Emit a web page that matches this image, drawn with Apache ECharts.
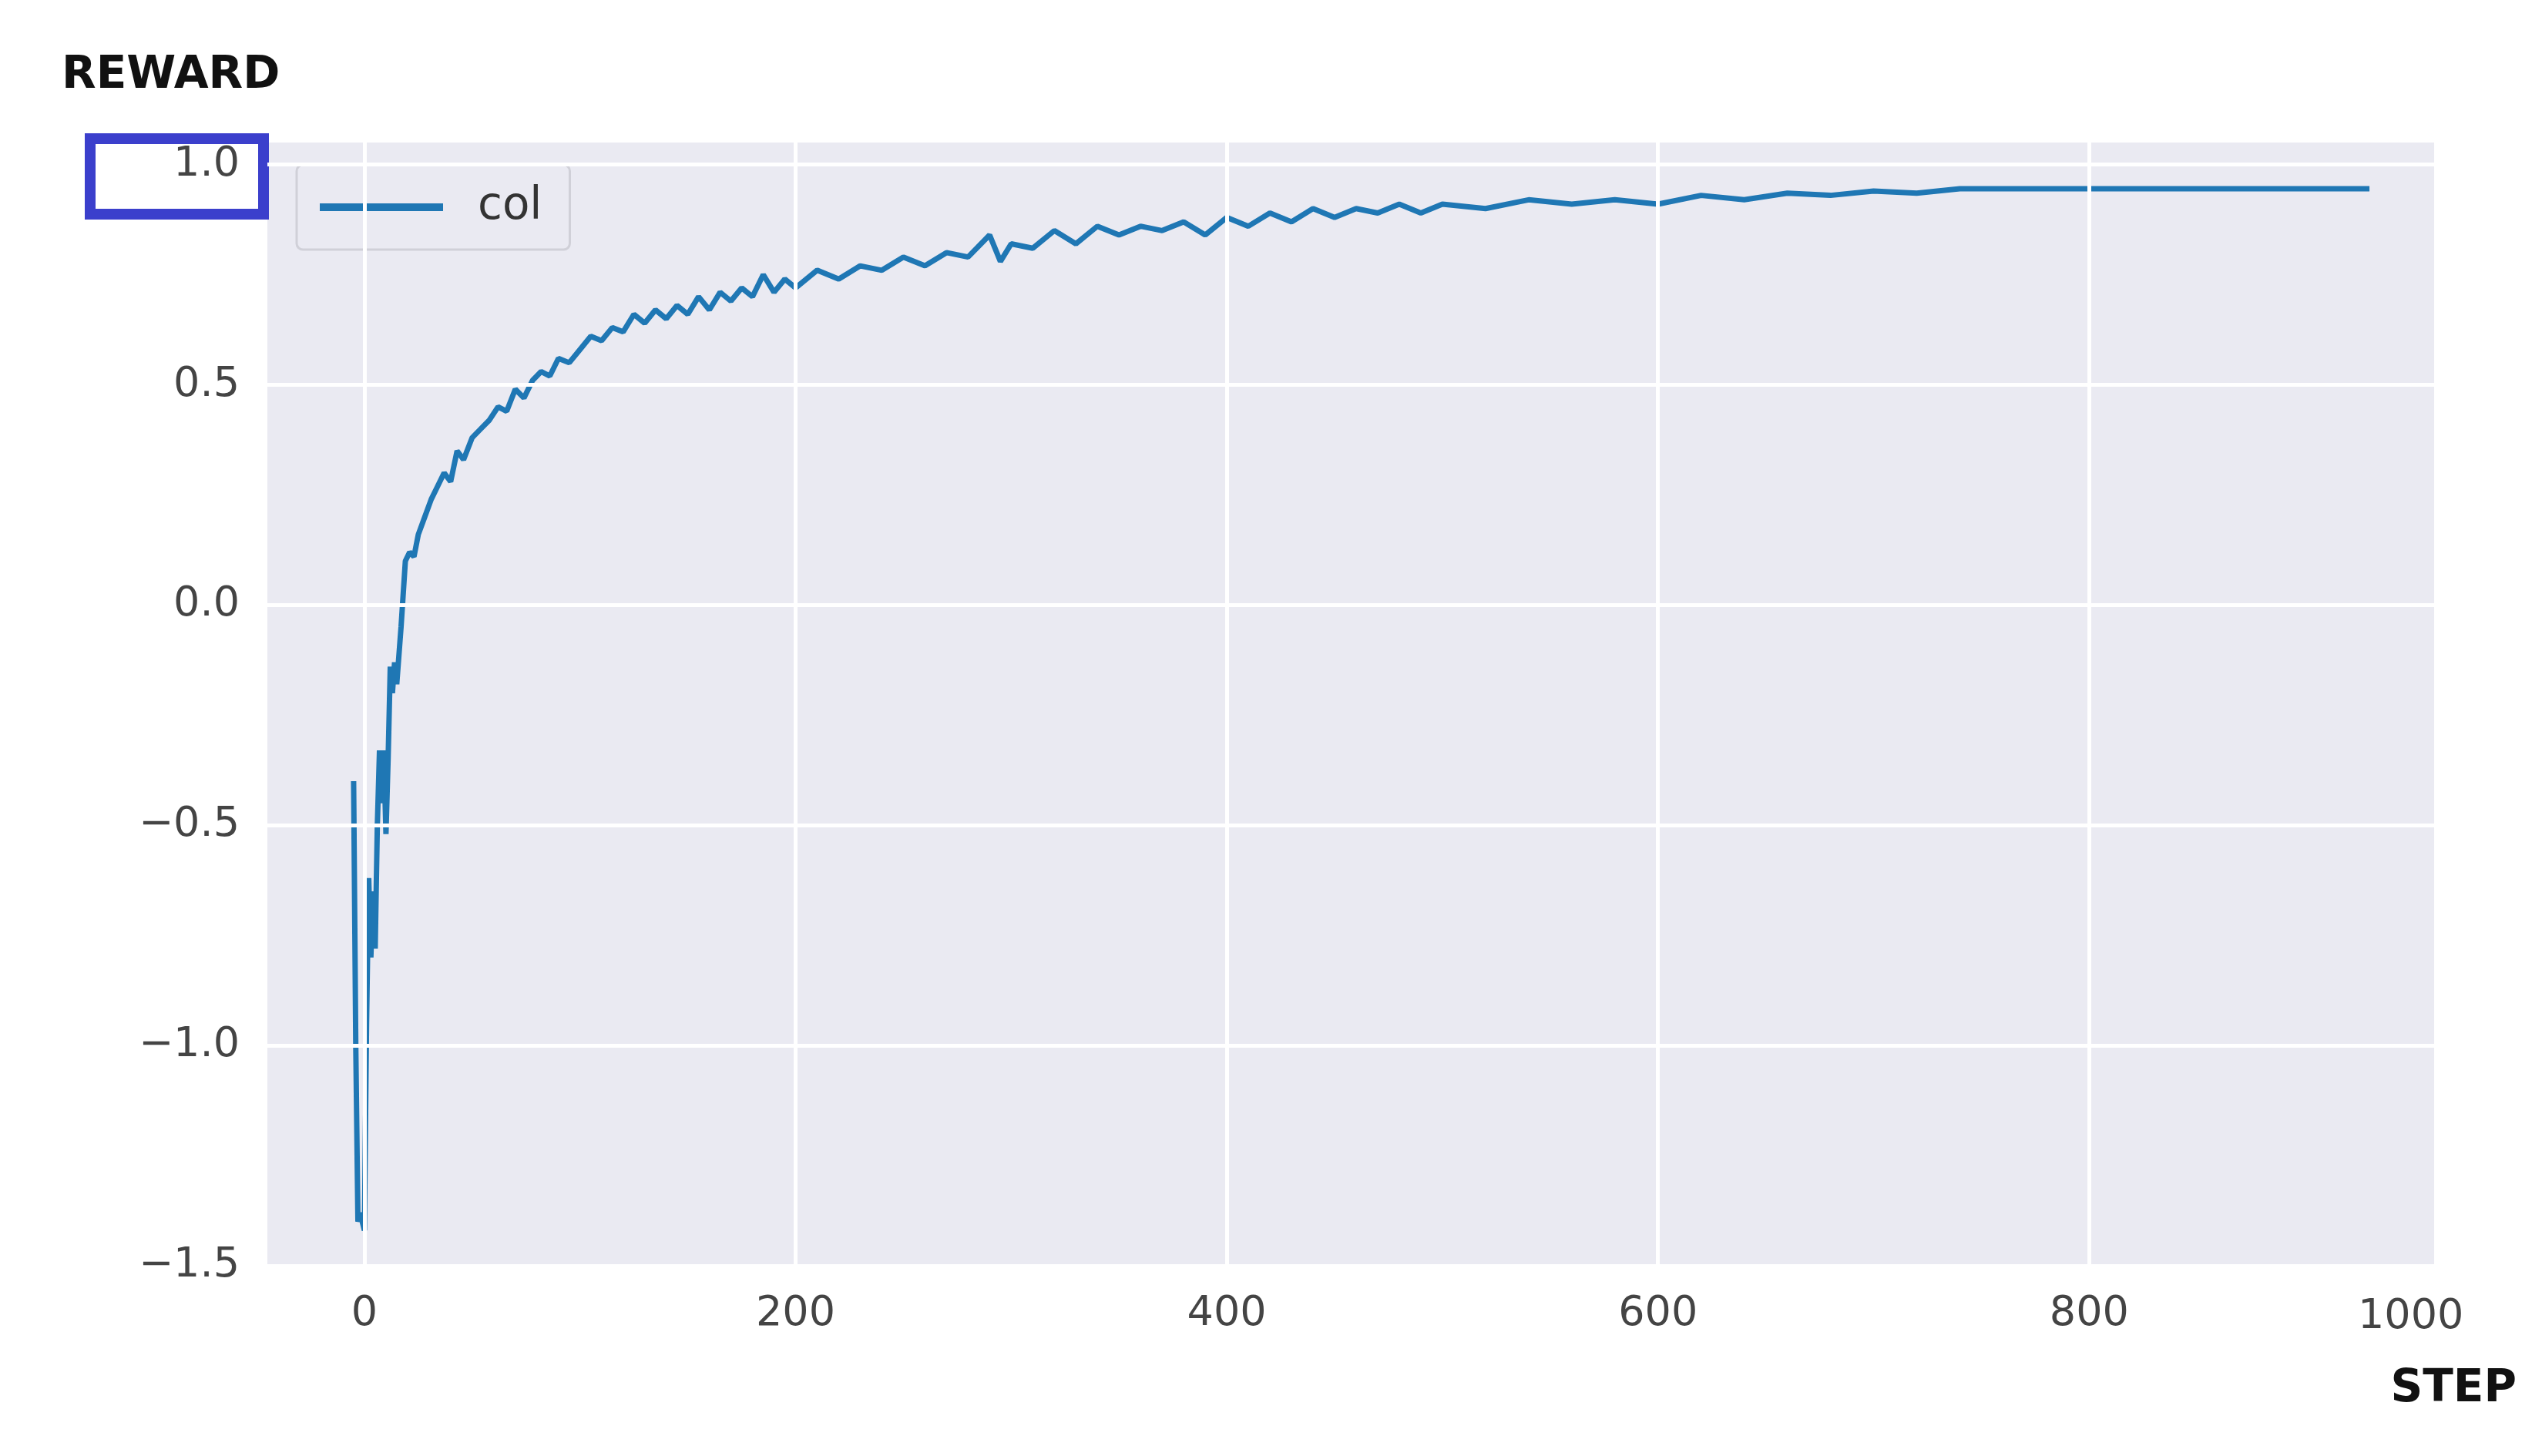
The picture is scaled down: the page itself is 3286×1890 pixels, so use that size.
<!DOCTYPE html>
<html><head><meta charset="utf-8">
<script src="https://cdn.jsdelivr.net/npm/echarts@6/dist/echarts.min.js"></script>
<style>html,body{margin:0;background:#fff}#c{width:3286px;height:1890px}</style>
</head><body><div id="c"></div>
<script>
const steps=[-5,-4,-3,-2,0,1,2,3,4,5,6,7,8,9,10,11,12,13,14,15,17,19,21,23,25,28,31,34,37,40,43,46,50,54,58,62,66,70,74,78,82,86,90,95,100,105,110,115,120,125,130,135,140,145,150,155,160,165,170,175,180,185,190,195,200,210,220,230,240,250,260,270,280,290,295,300,310,320,330,340,350,360,370,380,390,400,410,420,430,440,450,460,470,480,490,500,520,540,560,580,600,620,640,660,680,700,720,740,760,800,850,900,930];
const reward=[-0.40,-1.00,-1.40,-1.38,-1.42,-0.95,-0.62,-0.80,-0.65,-0.78,-0.50,-0.33,-0.45,-0.33,-0.52,-0.35,-0.14,-0.20,-0.13,-0.18,-0.05,0.10,0.12,0.11,0.16,0.20,0.24,0.27,0.30,0.28,0.35,0.33,0.38,0.40,0.42,0.45,0.44,0.49,0.47,0.51,0.53,0.52,0.56,0.55,0.58,0.61,0.60,0.63,0.62,0.66,0.64,0.67,0.65,0.68,0.66,0.70,0.67,0.71,0.69,0.72,0.70,0.75,0.71,0.74,0.72,0.76,0.74,0.77,0.76,0.79,0.77,0.80,0.79,0.84,0.78,0.82,0.81,0.85,0.82,0.86,0.84,0.86,0.85,0.87,0.84,0.88,0.86,0.89,0.87,0.90,0.88,0.90,0.89,0.91,0.89,0.91,0.90,0.92,0.91,0.92,0.91,0.93,0.92,0.935,0.93,0.94,0.935,0.945,0.945,0.945,0.945,0.945,0.945];
const xTicks=[0,200,400,600,800];
const xExtraLabel='1000';
const yTicks=[-1.5,-1.0,-0.5,0.0,0.5,1.0];
const data=steps.map((s,i)=>[s,reward[i]]);
const ch=echarts.init(document.getElementById('c'));
const lab={color:'#444',fontSize:54,fontFamily:'DejaVu Sans'};
ch.setOption({
  animation:false,
  grid:{left:347,right:127,top:185,bottom:247,backgroundColor:'#eaeaf2',show:true,borderWidth:0},
  xAxis:{type:'value',min:-45,max:960,
    axisLine:{show:false},axisTick:{show:false},splitLine:{show:false},
    axisLabel:{...lab,margin:36,customValues:xTicks,formatter:v=>String(v)}},
  yAxis:{type:'value',min:-1.5,max:1.05,
    axisLine:{show:false},axisTick:{show:false},splitLine:{show:false},
    axisLabel:{...lab,margin:36,customValues:yTicks,formatter:v=>v.toFixed(1).replace('-','\u2212')}},
  legend:{show:true,left:385,top:214,padding:[26,36,26,30],itemWidth:160,itemHeight:10,itemGap:20,
    backgroundColor:'rgba(234,234,242,0.9)',borderColor:'#d0d0d8',borderWidth:3,borderRadius:8,
    textStyle:{fontSize:58,color:'#333',fontFamily:'DejaVu Sans',padding:[0,0,0,40]},
    data:[{name:'col',icon:'rect'}]},
  series:[
    {type:'line',name:'col',data:data,showSymbol:false,lineStyle:{color:'#1f77b4',width:7},itemStyle:{color:'#1f77b4'},z:3},
    {type:'line',data:[],silent:true,showSymbol:false,
     markLine:{symbol:'none',silent:true,label:{show:false},lineStyle:{color:'#fff',width:5,type:'solid'},
      data:yTicks.map(v=>({yAxis:v})).concat(xTicks.map(v=>({xAxis:v})))},z:1}
  ],
  graphic:[
    {type:'text',left:80,top:70,style:{text:'REWARD',fontSize:58,fontWeight:'bold',fill:'#111',fontFamily:'DejaVu Sans'}},
    {type:'text',right:20,top:1775,style:{text:'STEP',fontSize:58,fontWeight:'bold',fill:'#111',fontFamily:'DejaVu Sans'}},
    {type:'text',left:3060,top:1683,style:{text:xExtraLabel,fontSize:54,fill:'#444',fontFamily:'DejaVu Sans'}},
    {type:'rect',left:110,top:173,shape:{width:225,height:98},style:{fill:'none',stroke:'#3b3fcc',lineWidth:14}}
  ]
});
</script></body></html>
